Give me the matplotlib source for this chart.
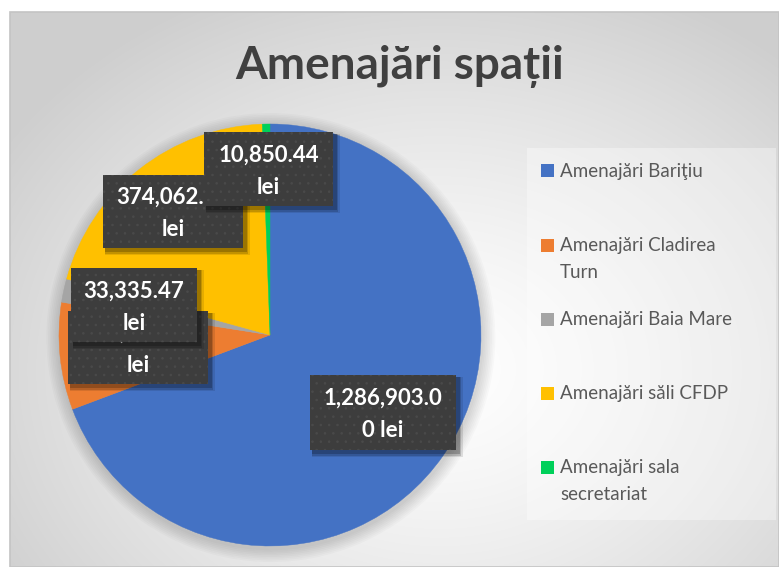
import numpy as np
import matplotlib
matplotlib.use("Agg")
import matplotlib.pyplot as plt
from matplotlib.patches import Rectangle, Circle

# ---- data ----
title = "Amenajări spații"
categories = ["Amenajări Bariţiu", "Amenajări Cladirea\nTurn", "Amenajări Baia Mare",
              "Amenajări săli CFDP", "Amenajări sala\nsecretariat"]
values = [1286903.00, 152480.00, 33335.47, 374062.00, 10850.44]
colors = ["#4472C4", "#ED7D31", "#A5A5A5", "#FFC000", "#00D05A"]

# label box layout (pixel boxes: x0, y0, x1, y1)
label_boxes = [(310, 375, 456, 450), (68, 311, 208, 384), (71, 268, 197, 342),
               (103, 175, 243, 248), (204, 132, 333, 206)]

W, H = 779, 567
FONT = ["Lato", "DejaVu Sans"]
plt.rcParams["font.family"] = FONT
plt.rcParams["hatch.linewidth"] = 0.6

fig = plt.figure(figsize=(W / 100, H / 100), dpi=100)
fig.patch.set_facecolor("white")

def fr(x0, y0, x1, y1):
    return [x0 / W, 1 - y1 / H, (x1 - x0) / W, (y1 - y0) / H]

# ---- background gradient ----
bg = fig.add_axes(fr(10, 12, W, H))
bg.set_axis_off()
xx, yy = np.meshgrid(np.linspace(10, W, 300), np.linspace(12, H, 220))
cx, cy = 440, 370
d = np.sqrt((xx - cx) ** 2 + ((yy - cy) / 0.8) ** 2)
t = np.clip(d / 520, 0, 1) ** 1.3
g = 1 - 0.19 * t
img = np.dstack([g, g, g])
bg.imshow(img, extent=[0, 1, 0, 1], aspect="auto", interpolation="bilinear")
bg.set_xlim(0, 1); bg.set_ylim(0, 1)
bg.add_patch(Rectangle((0, 0), 1, 1, transform=bg.transAxes, fill=False,
                       ec="#C4C4C4", lw=1.2, clip_on=False))

# ---- title ----
fig.text(400 / W, 1 - 66 / H, title, ha="center", va="center", fontsize=33,
         fontweight="bold", color="#404040")

# ---- pie ----
pcx, pcy, r = 270, 335, 211
ax = fig.add_axes(fr(pcx - r, pcy - r, pcx + r, pcy + r))
ax.set_axis_off()
for k in range(1, 9):
    ax.add_patch(Circle((0.004, -0.012), 1 + 0.008 * k, color="black",
                        alpha=0.018, lw=0, clip_on=False, zorder=0))
wedges, _ = ax.pie(values, colors=colors, startangle=90, counterclock=False,
                   radius=1, wedgeprops=dict(linewidth=0.3))
for w, c in zip(wedges, colors):
    w.set_edgecolor(c)
    w.set_zorder(2)
    w.set_clip_on(False)
ax.set_aspect("auto")
ax.set_xlim(-1, 1); ax.set_ylim(-1, 1)

# ---- data labels ----
def wrap(v):
    num = f"{v:,.2f}"
    s = num + " lei"
    if len(num) <= 10:
        return [num, "lei"]
    return [s[:11], s[11:].strip()]

ov = fig.add_axes([0, 0, 1, 1])
ov.set_xlim(0, W); ov.set_ylim(H, 0)
ov.set_axis_off()
ov.patch.set_alpha(0)

for i, (v, (x0, y0, x1, y1)) in enumerate(zip(values, label_boxes)):
    z = 10 + i * 3
    for s, a in [(5, 0.10), (3.5, 0.15), (2, 0.2)]:
        ov.add_patch(Rectangle((x0 + 2, y0 + 2), x1 - x0 + s, y1 - y0 + s,
                               fc="black", alpha=a, lw=0, zorder=z))
    ov.add_patch(Rectangle((x0, y0), x1 - x0, y1 - y0, fc="#3D3D3D", ec="#4A4A4A",
                           lw=0, hatch="..", zorder=z + 1))
    lines = wrap(v)
    cyb = (y0 + y1) / 2
    xc = (x0 + x1) / 2
    ov.text(xc, cyb - 7.5, lines[0], ha="center", va="baseline", fontsize=16,
            fontweight="bold", color="white", zorder=z + 2)
    ov.text(xc, cyb + 24.5, lines[1], ha="center", va="baseline", fontsize=16,
            fontweight="bold", color="white", zorder=z + 2)

# ---- legend ----
ov.add_patch(Rectangle((527, 148), 249, 372, fc="white", alpha=0.35, lw=0, zorder=5))
leg_y = [171, 246, 320, 394, 468]
for cat, c, y in zip(categories, colors, leg_y):
    ov.add_patch(Rectangle((541, y - 7), 13, 13, fc=c, lw=0, zorder=6))
    for j, line in enumerate(cat.split("\n")):
        ov.text(560, y + j * 27, line, ha="left", va="center", fontsize=13.5,
                color="#595959", zorder=6)

fig.savefig("out.png", dpi=100)
